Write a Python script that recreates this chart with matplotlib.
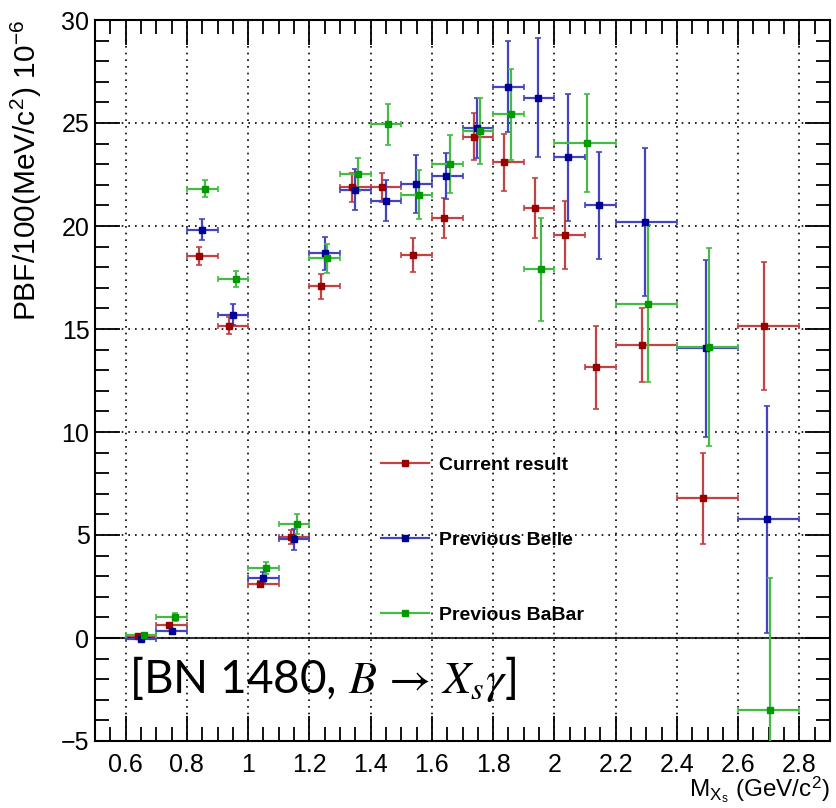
import numpy as np
import matplotlib
matplotlib.use("Agg")
import matplotlib.pyplot as plt
import matplotlib.lines as mlines
from matplotlib.ticker import MultipleLocator

plt.rcParams['font.family'] = ['Liberation Sans', 'DejaVu Sans']
plt.rcParams['mathtext.fontset'] = 'stix'

# bins 0.1 wide up to 2.2, then 0.2 wide
edges_rb = [0.6, 0.7, 0.8, 0.9, 1.0, 1.1, 1.2, 1.3, 1.4, 1.5, 1.6, 1.7, 1.8,
            1.9, 2.0, 2.1, 2.2, 2.4, 2.6, 2.8]
edges_g = [0.6, 0.7, 0.8, 0.9, 1.0, 1.1, 1.2, 1.3, 1.4, 1.5, 1.6, 1.7, 1.8,
           1.9, 2.0, 2.2, 2.4, 2.6, 2.8]

# Current result
cur_x = [0.641, 0.740, 0.841, 0.939, 1.040, 1.139, 1.238, 1.339, 1.438, 1.538,
         1.638, 1.738, 1.837, 1.937, 2.036, 2.137, 2.286, 2.484, 2.685]
cur_y = [0.08, 0.62, 18.53, 15.16, 2.62, 4.89, 17.07, 21.88, 21.88, 18.59,
         20.37, 24.34, 23.09, 20.86, 19.55, 13.14, 14.22, 6.78, 15.15]
cur_e = [0.06, 0.1, 0.44, 0.4, 0.15, 0.35, 0.6, 0.7, 0.7, 0.84,
         0.97, 1.13, 1.38, 1.46, 1.64, 2.0, 1.78, 2.22, 3.1]

# Previous Belle
bel_x = [0.651, 0.750, 0.849, 0.950, 1.049, 1.150, 1.250, 1.348, 1.449, 1.549,
         1.647, 1.748, 1.847, 1.948, 2.045, 2.146, 2.295, 2.496, 2.694]
bel_y = [-0.05, 0.34, 19.82, 15.70, 2.93, 4.79, 18.67, 21.76, 21.23, 22.05,
         22.43, 24.74, 26.76, 26.23, 23.33, 21.0, 20.21, 14.06, 5.76]
bel_e = [0.1, 0.1, 0.5, 0.52, 0.27, 0.5, 0.8, 1.0, 1.0, 1.4,
         1.1, 1.46, 2.2, 2.9, 3.1, 2.6, 3.6, 4.3, 5.5]

# Previous BaBar
bab_x = [0.660, 0.760, 0.860, 0.960, 1.059, 1.159, 1.259, 1.359, 1.457, 1.557,
         1.658, 1.758, 1.858, 1.956, 2.107, 2.305, 2.506, 2.704]
bab_y = [0.13, 1.02, 21.81, 17.43, 3.41, 5.53, 18.43, 22.52, 24.94, 21.52,
         23.02, 24.63, 25.42, 17.91, 24.03, 16.23, 14.11, -3.50]
bab_e = [0.1, 0.19, 0.4, 0.4, 0.3, 0.5, 0.7, 0.8, 1.0, 1.2,
         1.4, 1.6, 2.2, 2.5, 2.4, 3.8, 4.8, 6.4]

series = [
    (cur_x, cur_y, cur_e, edges_rb, '#990000', '#c04444', 'Current result'),
    (bel_x, bel_y, bel_e, edges_rb, '#000099', '#4444c0', 'Previous Belle'),
    (bab_x, bab_y, bab_e, edges_g, '#009900', '#44bb44', 'Previous BaBar'),
]

fig = plt.figure(figsize=(8.36, 8.08), dpi=100)
ax = fig.add_axes([95/836, 1 - 741/808, 735/836, 721/808])

ax.axhline(0, color='#333333', lw=1.5, zorder=1)

handles = []
for x, y, e, edges, mc, lc, lab in series:
    x = np.array(x)
    lo = np.array(edges[:-1])
    hi = np.array(edges[1:])
    ax.errorbar(x, y, yerr=e, xerr=[x - lo, hi - x], fmt='s', ms=5,
                mfc=mc, mec=mc, ecolor=lc, elinewidth=1.6, capsize=2.5,
                capthick=1.2, zorder=3)
    handles.append(mlines.Line2D([], [], color=lc, lw=1.6, marker='s', ms=5,
                                 mfc=mc, mec=mc, label=lab))

ax.set_xlim(0.5, 2.9)
ax.set_ylim(-5, 30)
ax.xaxis.set_major_locator(MultipleLocator(0.2))
ax.xaxis.set_minor_locator(MultipleLocator(0.05))
ax.yaxis.set_major_locator(MultipleLocator(5))
ax.yaxis.set_minor_locator(MultipleLocator(1))
ax.set_xticks([0.6, 0.8, 1.0, 1.2, 1.4, 1.6, 1.8, 2.0, 2.2, 2.4, 2.6, 2.8])
ax.set_xticklabels(['0.6', '0.8', '1', '1.2', '1.4', '1.6', '1.8', '2',
                    '2.2', '2.4', '2.6', '2.8'])
ax.set_yticks([-5, 0, 5, 10, 15, 20, 25, 30])
ax.set_yticklabels(['\u22125', '0', '5', '10', '15', '20', '25', '30'])

ax.grid(True, which='major', color='black', ls=(0, (1, 3)), lw=1.2)
ax.tick_params(which='both', direction='in', top=True, right=True, width=1.3)
ax.tick_params(which='major', length=18, labelsize=18)
ax.tick_params(which='minor', length=10)
ax.tick_params(axis='x', which='major', pad=9)
ax.tick_params(axis='y', which='major', pad=4)
for s in ax.spines.values():
    s.set_linewidth(1.5)

ax.set_ylabel(r'PBF/100(MeV/c$^{\mathregular{2}}$) 10$^{\mathregular{-6}}$',
              fontsize=21.5, loc='top')
ax.yaxis.set_label_coords(-0.07, 1.0)
ax.set_xlabel(r'M$_{\mathregular{X_s}}$ (GeV/c$^{\mathregular{2}}$)',
              fontsize=17.5, loc='right')
ax.xaxis.set_label_coords(1.0, -0.046)

ax.legend(handles=handles, loc='upper left', bbox_to_anchor=(0.389, 0.395),
          frameon=False, prop={'weight': 'bold', 'size': 14},
          handlelength=2.45, handletextpad=0.55, labelspacing=2.95,
          borderpad=0, borderaxespad=0)

ax.text(0.61, -2.0, r'[BN 1480, $B\,\rightarrow\,X_s\gamma$]', fontsize=33,
        family=['Lato', 'DejaVu Sans'], va='center', ha='left')

fig.savefig('out.png', dpi=100)
